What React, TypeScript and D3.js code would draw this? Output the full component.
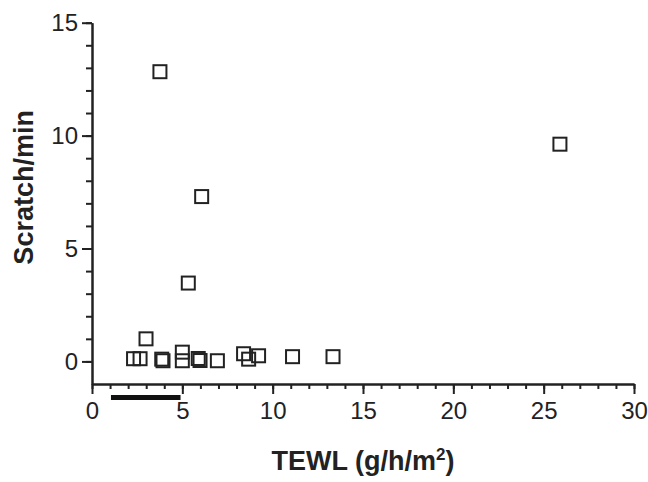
import { useEffect, useRef } from "react";
import * as d3 from "d3";

// TEWL (x) vs scratch rate (y), one square per subject
const tewl = [3.76, 6.07, 5.33, 25.9, 2.99, 2.3, 2.66, 3.93, 3.86, 5.0, 5.0, 5.88, 5.98, 6.94, 8.39, 8.67, 9.22, 11.1, 13.34];
const scratch = [12.83, 7.3, 3.47, 9.62, 1.0, 0.12, 0.12, 0.03, 0.1, 0.41, 0.03, 0.13, 0.04, 0.03, 0.34, 0.1, 0.25, 0.21, 0.21];

const xMajorTicks = [0, 5, 10, 15, 20, 25, 30];
const yMajorTicks = [0, 5, 10, 15];
// normal TEWL range bar under the x axis
const normalRange = [1.05, 4.9];

const WIDTH = 648;
const HEIGHT = 482;
const INK = "#222";
const FONT = "'Liberation Sans', Arial, sans-serif";

const App = () => {
  const svgRef = useRef<SVGSVGElement | null>(null);

  useEffect(() => {
    const svg = d3.select(svgRef.current).attr("width", WIDTH).attr("height", HEIGHT);
    svg.selectAll("*").remove();

    const x = d3.scaleLinear().domain([0, 30]).range([92, 634]);
    const y = d3.scaleLinear().domain([-1, 15]).range([384, 22.7]);

    const styleAxis = (g: any) => {
      g.select(".domain").attr("stroke", INK).attr("stroke-width", 2);
      g.selectAll(".tick line").attr("stroke", INK).attr("stroke-width", 2);
      g.selectAll(".tick text")
        .attr("fill", INK)
        .style("font-family", FONT)
        .style("font-size", "24px");
    };

    // minor ticks
    svg.append("g")
      .attr("transform", `translate(0, ${y(-1)})`)
      .call(d3.axisBottom(x).tickValues(d3.range(0, 31)).tickSize(5).tickSizeOuter(0).tickFormat(() => ""))
      .call(styleAxis);
    svg.append("g")
      .attr("transform", `translate(${x(0)}, 0)`)
      .call(d3.axisLeft(y).tickValues(d3.range(0, 16)).tickSize(6).tickSizeOuter(0).tickFormat(() => ""))
      .call(styleAxis);

    // major ticks with labels
    svg.append("g")
      .attr("transform", `translate(0, ${y(-1)})`)
      .call(d3.axisBottom(x).tickValues(xMajorTicks).tickSize(10).tickPadding(8).tickSizeOuter(0).tickFormat(d3.format("d")))
      .call(styleAxis);
    svg.append("g")
      .attr("transform", `translate(${x(0)}, 0)`)
      .call(d3.axisLeft(y).tickValues(yMajorTicks).tickSize(10).tickPadding(4).tickSizeOuter(0).tickFormat(d3.format("d")))
      .call(styleAxis);

    // normal range bar
    svg.append("line")
      .attr("x1", x(normalRange[0]))
      .attr("x2", x(normalRange[1]))
      .attr("y1", y(-1) + 13.5)
      .attr("y2", y(-1) + 13.5)
      .attr("stroke", "#111")
      .attr("stroke-width", 5);

    // points
    const side = 13;
    svg.append("g")
      .selectAll("rect")
      .data(tewl.map((t, i) => [t, scratch[i]]))
      .enter()
      .append("rect")
      .attr("x", (d) => x(d[0]) - side / 2)
      .attr("y", (d) => y(d[1]) - side / 2)
      .attr("width", side)
      .attr("height", side)
      .attr("fill", "none")
      .attr("stroke", INK)
      .attr("stroke-width", 2);

    // axis titles
    svg.append("text")
      .attr("transform", `translate(33, ${(y(15) + y(-1)) / 2 - 16}) rotate(-90)`)
      .attr("text-anchor", "middle")
      .attr("fill", INK)
      .style("font-family", FONT)
      .style("font-weight", "bold")
      .style("font-size", "27px")
      .text("Scratch/min");

    const xt = svg.append("text")
      .attr("x", (x(0) + x(30)) / 2)
      .attr("y", 470)
      .attr("text-anchor", "middle")
      .attr("fill", INK)
      .style("font-family", FONT)
      .style("font-weight", "bold")
      .style("font-size", "27px");
    xt.append("tspan").text("TEWL (g/h/m");
    xt.append("tspan").attr("dy", -10).style("font-size", "17px").text("2");
    xt.append("tspan").attr("dy", 10).text(")");
  }, []);

  return <svg ref={svgRef} style={{ position: "absolute", left: 0, top: 0 }} />;
};

export default App;
